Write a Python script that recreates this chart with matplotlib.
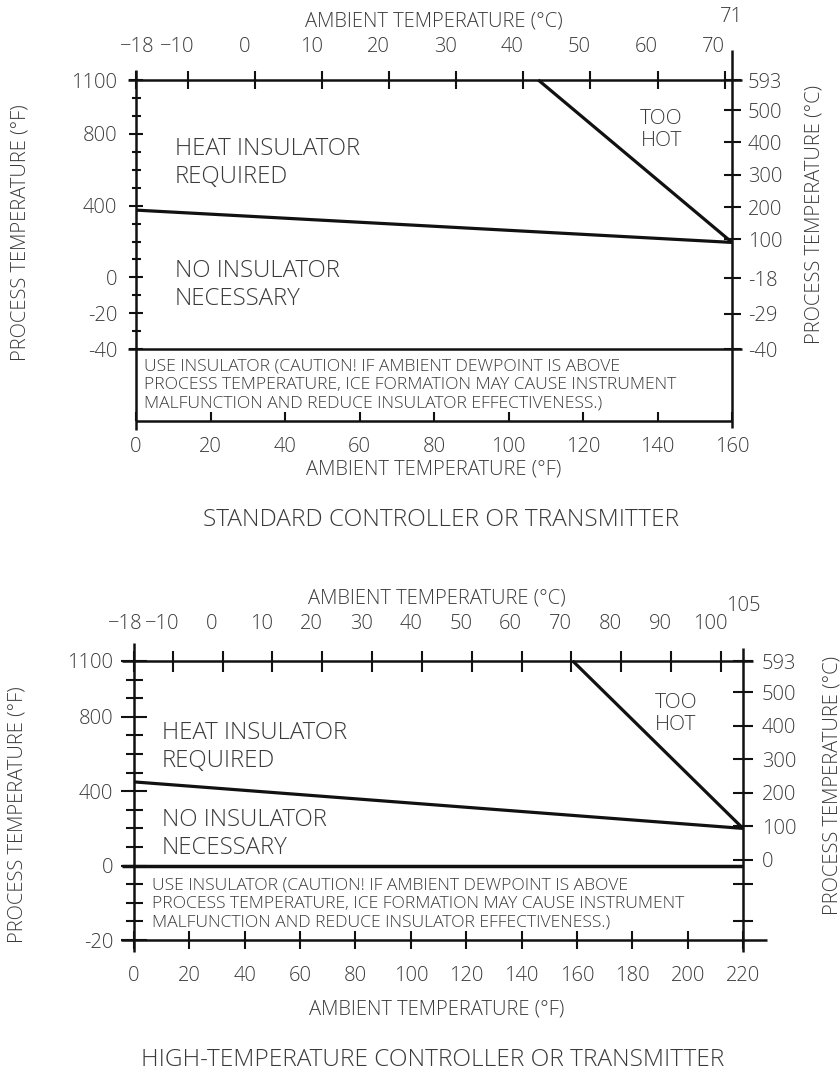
import numpy as np
import matplotlib.pyplot as plt
from matplotlib.transforms import ScaledTranslation

plt.rcParams['font.family'] = ['Open Sans', 'DejaVu Sans']
plt.rcParams['font.weight'] = 'light'
INK = '#3a3a3a'
LINE = '#111111'
W, H, DPI = 840, 1072, 100
TS = 14.5  # tick and axis label size

# standard controller or transmitter (°F)
std_amb = [0, 160]
std_insul = [375, 195]
std_hot_amb = [108, 160]
std_hot = [1100, 195]
std_left_major = [1100, 800, 400, 0, -20, -40]
std_left_minor = [1000, 900, 700, 600, 500, 300, 200, 100, -10, -30]
std_right_c = [593, 500, 400, 300, 200, 100, -18, -29, -40]
std_top_c = [-18, -10, 0, 10, 20, 30, 40, 50, 60, 70]
std_bottom_f = [0, 20, 40, 60, 80, 100, 120, 140, 160]

# high-temperature controller or transmitter (°F)
hi_amb = [0, 220]
hi_insul = [450, 200]
hi_hot_amb = [158.5, 220]
hi_hot = [1100, 200]
hi_left_major = [1100, 800, 400, 0, -20]
hi_left_minor = [1000, 900, 700, 600, 500, 300, 200, 100, -5, -10, -15]
hi_right_c = [593, 500, 400, 300, 200, 100, 0]
hi_right_minor_c = [-20.6, -26.1]
hi_top_c = [-18, -10, 0, 10, 20, 30, 40, 50, 60, 70, 80, 90, 100]
hi_bottom_f = [0, 20, 40, 60, 80, 100, 120, 140, 160, 180, 200, 220]

caution = ("USE INSULATOR (CAUTION! IF AMBIENT DEWPOINT IS ABOVE\n"
           "PROCESS TEMPERATURE, ICE FORMATION MAY CAUSE INSTRUMENT\n"
           "MALFUNCTION AND REDUCE INSULATOR EFFECTIVENESS.)")


def pt(px):
    return px * 72 / DPI


def f2c(f):
    return (np.asarray(f, dtype=float) - 32) * 5 / 9


def c2f(c):
    return np.asarray(c, dtype=float) * 9 / 5 + 32


def squash(k):
    # below 0 °F the process axis is stretched k times
    def fwd(f):
        f = np.asarray(f, dtype=float)
        return np.where(f >= 0, f, f * k)

    def inv(u):
        u = np.asarray(u, dtype=float)
        return np.where(u >= 0, u, u / k)
    return fwd, inv


def fig_text(x, y, s, **kw):
    fig.text(x / W, 1 - y / H, s, ha='center', va='center', color=INK, **kw)


def panel(ax, xmax, ymin, k, amb, insul, hot_amb, hot, left_major, left_minor,
          right_c, right_minor_c, top_c, bottom_f, g):
    fwd, inv = squash(k)
    ax.set_xlim(0, xmax)
    ax.set_yscale('function', functions=(fwd, inv))
    ax.set_ylim(ymin, 1100)
    for s in ax.spines.values():
        s.set_visible(False)

    ax.plot(amb, insul, color=LINE, lw=2.3, solid_capstyle='butt', clip_on=False)
    ax.plot(hot_amb, hot, color=LINE, lw=2.3, solid_capstyle='butt', clip_on=False)

    # frame
    pos = ax.get_position()
    aw, ah = pos.width * W, pos.height * H
    tA = ax.transAxes
    fl = dict(color=LINE, lw=1.8, clip_on=False, solid_capstyle='butt')
    ax.plot([-g['top'][0] / aw, 1 + g['top'][1] / aw], [1, 1], transform=tA, **fl)
    ax.plot([-g['bot'][0] / aw, 1 + g['bot'][1] / aw], [0, 0], transform=tA, **fl)
    ax.plot([0, 0], [-g['left'][0] / ah, 1 + g['left'][1] / ah], transform=tA, **fl)
    ax.plot([1, 1], [-g['right'][0] / ah, 1 + g['right'][1] / ah], transform=tA, **fl)
    yv, x0, x1, lw = g['mid']
    ax.plot([-x0 / aw, 1 + x1 / aw], [yv, yv], transform=ax.get_yaxis_transform(),
            color=LINE, lw=lw, clip_on=False, solid_capstyle='butt')

    # left: process °F
    ax.set_yticks(left_major, labels=[str(v) for v in left_major])
    ax.set_yticks(left_minor, minor=True)
    ax.tick_params(axis='y', which='major', direction='inout', length=pt(g['lmaj']),
                   width=1.5, color=LINE, pad=pt(g['lpad']), labelsize=TS, labelcolor=INK)
    ax.tick_params(axis='y', which='minor', direction='inout', length=pt(g['lmin']),
                   width=1.5, color=LINE)

    # bottom: ambient °F
    ax.set_xticks(bottom_f, labels=[str(v) for v in bottom_f])
    ax.tick_params(axis='x', direction=g['bdir'], length=pt(g['blen']), width=1.5,
                   color=LINE, pad=pt(g['bpad']), labelsize=TS, labelcolor=INK)

    # right: process °C
    tw = ax.twinx()
    tw.set_yscale('function', functions=(fwd, inv))
    tw.set_ylim(ymin, 1100)
    for s in tw.spines.values():
        s.set_visible(False)
    tw.set_yticks(c2f(right_c), labels=[str(v) for v in right_c])
    tw.set_yticks(c2f(right_minor_c), minor=True)
    tw.tick_params(axis='y', which='both', direction='inout', length=pt(g['rlen']),
                   width=1.5, color=LINE, pad=pt(g['rpad']), labelsize=TS, labelcolor=INK)

    # top: ambient °C, labels sit a little left of their ticks
    sec = ax.secondary_xaxis('top', functions=(f2c, c2f))
    for s in sec.spines.values():
        s.set_visible(False)
    top_pos = f2c(np.clip(c2f(top_c), 0, xmax))
    sec.set_xticks(top_pos, labels=[str(v).replace('-', '\u2212') for v in top_c])
    sec.tick_params(axis='x', direction='inout', length=pt(g['tlen']), width=1.5,
                    color=LINE, pad=pt(g['tpad']), labelsize=TS, labelcolor=INK)
    for i, lab in enumerate(sec.get_xticklabels()):
        dx = g['t0dx'] if i == 0 else -11
        lab.set_transform(lab.get_transform() +
                          ScaledTranslation(dx / DPI, 0, fig.dpi_scale_trans))
    return tw, sec


fig = plt.figure(figsize=(W / DPI, H / DPI), dpi=DPI)

# ---- standard ----
ax1 = fig.add_axes([136 / W, 1 - 421 / H, (732 - 136) / W, (421 - 80) / H])
g1 = dict(top=(8, 10), bot=(0, 0), left=(9, 10), right=(7, 30), mid=(-40, 8, 10, 1.8),
          lmaj=14, lmin=9, lpad=12, bdir='in', blen=9, bpad=16,
          rlen=17, rpad=7.5, tlen=18, tpad=14, t0dx=1)
panel(ax1, 160, -80, 10, std_amb, std_insul, std_hot_amb, std_hot,
      std_left_major, std_left_minor, std_right_c, [], std_top_c, std_bottom_f, g1)
ax1.text(10.5, 638, "HEAT INSULATOR\nREQUIRED", fontsize=17.3, color=INK,
         va='center', ha='left', linespacing=1.22)
ax1.text(10.5, -4.2, "NO INSULATOR\nNECESSARY", fontsize=17.3, color=INK,
         va='center', ha='left', linespacing=1.22)
ax1.text(141, 822, "TOO\nHOT", fontsize=15, color=INK, va='center', ha='center',
         linespacing=1.15)
ax1.text(2.2, -59.9, caution, fontsize=12.6, color=INK, va='center', ha='left',
         linespacing=1.18)
ax1.text(c2f(71), 1 + 63 / 341, "71", transform=ax1.get_xaxis_transform(),
         fontsize=TS, color=INK, ha='center', va='center')

fig_text(434, 21.5, "AMBIENT TEMPERATURE (\u00b0C)", fontsize=TS)
fig_text(434, 469.5, "AMBIENT TEMPERATURE (\u00b0F)", fontsize=TS)
fig_text(20.5, 233, "PROCESS TEMPERATURE (\u00b0F)", fontsize=TS, rotation=90)
fig_text(814, 214, "PROCESS TEMPERATURE (\u00b0C)", fontsize=TS, rotation=90)
fig_text(441, 519.5, "STANDARD CONTROLLER OR TRANSMITTER", fontsize=17.6)

# ---- high temperature ----
ax2 = fig.add_axes([134 / W, 1 - 940 / H, (743 - 134) / W, (940 - 661) / H])
g2 = dict(top=(12, 10), bot=(13, 24), left=(12, 18), right=(12, 13), mid=(0, 12, 0, 2.5),
          lmaj=26, lmin=17, lpad=8, bdir='inout', blen=18, bpad=17,
          rlen=20, rpad=9, tlen=21, tpad=16, t0dx=-9)
panel(ax2, 220, -20, 20, hi_amb, hi_insul, hi_hot_amb, hi_hot,
      hi_left_major, hi_left_minor, hi_right_c, hi_right_minor_c, hi_top_c,
      hi_bottom_f, g2)
ax2.text(10.1, 637, "HEAT INSULATOR\nREQUIRED", fontsize=17.3, color=INK,
         va='center', ha='left', linespacing=1.22)
ax2.text(10.1, 170, "NO INSULATOR\nNECESSARY", fontsize=17.3, color=INK,
         va='center', ha='left', linespacing=1.22)
ax2.text(195.7, 815, "TOO\nHOT", fontsize=15, color=INK, va='center', ha='center',
         linespacing=1.15)
ax2.text(6.5, -10.35, caution, fontsize=12.6, color=INK, va='center', ha='left',
         linespacing=1.18)
ax2.text(c2f(105) - 1, 1 + 55 / 279, "105", transform=ax2.get_xaxis_transform(),
         fontsize=TS, color=INK, ha='center', va='center')

fig_text(437, 598.5, "AMBIENT TEMPERATURE (\u00b0C)", fontsize=TS)
fig_text(437, 1009.5, "AMBIENT TEMPERATURE (\u00b0F)", fontsize=TS)
fig_text(17.5, 815, "PROCESS TEMPERATURE (\u00b0F)", fontsize=TS, rotation=90)
fig_text(833, 785, "PROCESS TEMPERATURE (\u00b0C)", fontsize=TS, rotation=90)
fig_text(433, 1060.5, "HIGH-TEMPERATURE CONTROLLER OR TRANSMITTER", fontsize=17.6)

fig.savefig('out.png', dpi=DPI)
